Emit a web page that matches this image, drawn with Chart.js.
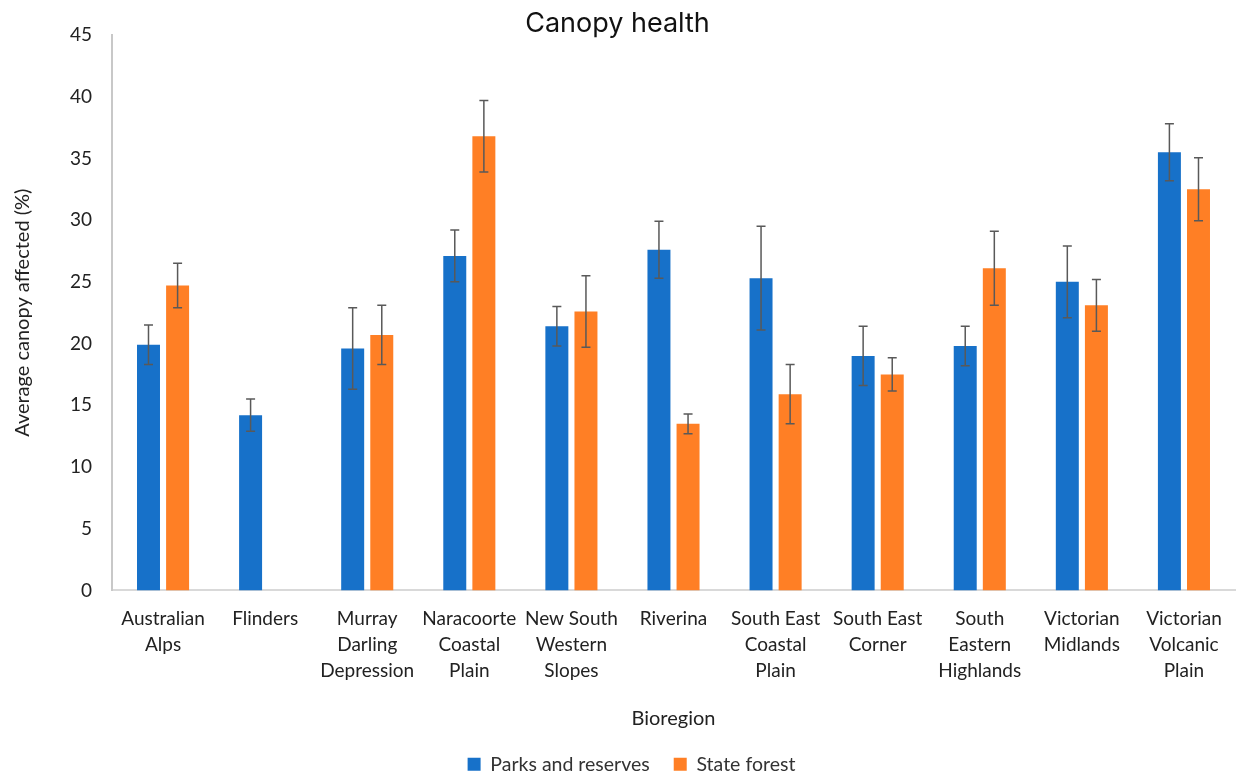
<!DOCTYPE html>
<html>
<head>
<meta charset="utf-8">
<script src="https://cdn.jsdelivr.net/npm/chart.js@4.4.1/dist/chart.umd.min.js"></script>
<style>
  body { margin: 0; background: #fff; }
  #wrap { width: 1243px; height: 774px; }
</style>
</head>
<body>
<div id="wrap"><canvas id="myChart" width="1243" height="774"></canvas></div>
<script>
const bioregiones = [
  ["Australian", "Alps"],
  ["Flinders"],
  ["Murray", "Darling", "Depression"],
  ["Naracoorte", "Coastal", "Plain"],
  ["New South", "Western", "Slopes"],
  ["Riverina"],
  ["South East", "Coastal", "Plain"],
  ["South East", "Corner"],
  ["South", "Eastern", "Highlands"],
  ["Victorian", "Midlands"],
  ["Victorian", "Volcanic", "Plain"]
];
const parques = [19.9, 14.2, 19.6, 27.1, 21.4, 27.6, 25.3, 19.0, 19.8, 25.0, 35.5];
const parquesError = [1.6, 1.3, 3.3, 2.1, 1.6, 2.3, 4.2, 2.4, 1.6, 2.9, 2.3];
const bosque = [24.7, null, 20.7, 36.8, 22.6, 13.5, 15.9, 17.5, 26.1, 23.1, 32.5];
const bosqueError = [1.8, null, 2.4, 2.9, 2.9, 0.8, 2.4, 1.35, 3.0, 2.1, 2.55];
const yTicks = [0, 5, 10, 15, 20, 25, 30, 35, 40, 45];

const fuente = "Lato";
const errores = [parquesError, bosqueError];

// barras de error dibujadas con la escala y
const errorBars = {
  id: "errorBars",
  afterLayout(chart) {
    // la leyenda de Excel queda un poco a la derecha
    chart.legend.left += 14;
    chart.legend.right += 14;
  },
  afterDatasetsDraw(chart) {
    const ctx = chart.ctx;
    const y = chart.scales.y;
    ctx.save();
    ctx.strokeStyle = "#595959";
    ctx.lineWidth = 1.5;
    chart.data.datasets.forEach((ds, i) => {
      const meta = chart.getDatasetMeta(i);
      meta.data.forEach((bar, j) => {
        const v = ds.data[j];
        const e = errores[i][j];
        if (v == null || e == null) return;
        const top = y.getPixelForValue(v + e);
        const bot = y.getPixelForValue(v - e);
        ctx.beginPath();
        ctx.moveTo(bar.x, top);
        ctx.lineTo(bar.x, bot);
        ctx.moveTo(bar.x - 4.5, top);
        ctx.lineTo(bar.x + 4.5, top);
        ctx.moveTo(bar.x - 4.5, bot);
        ctx.lineTo(bar.x + 4.5, bot);
        ctx.stroke();
      });
    });
    ctx.restore();
  }
};

const config = {
  type: "bar",
  data: {
    labels: bioregiones,
    datasets: [
      {
        label: "Parks and reserves",
        data: parques,
        backgroundColor: "#1771C9",
        categoryPercentage: 0.57,
        barPercentage: 0.79
      },
      {
        label: "State forest",
        data: bosque,
        backgroundColor: "#FF7F25",
        categoryPercentage: 0.57,
        barPercentage: 0.79
      }
    ]
  },
  options: {
    responsive: false,
    animation: false,
    layout: { padding: { left: 0, right: 8, top: 0, bottom: -10 } },
    plugins: {
      title: {
        display: true,
        text: "Canopy health",
        color: "#111",
        font: { family: "Inter", size: 27, weight: "normal", lineHeight: 1 },
        padding: { top: 10, bottom: -2 }
      },
      legend: {
        position: "bottom",
        labels: {
          boxWidth: 13,
          boxHeight: 13,
          color: "#333",
          padding: 24,
          font: { family: fuente, size: 19.5 }
        }
      },
      tooltip: { enabled: false }
    },
    scales: {
      x: {
        grid: { display: false, drawTicks: false },
        border: { display: true, color: "#d9d9d9", width: 2 },
        ticks: {
          autoSkip: false,
          maxRotation: 0,
          color: "#222",
          padding: 15,
          font: { family: fuente, size: 19, lineHeight: 1.37 }
        },
        title: {
          display: true,
          text: "Bioregion",
          color: "#222",
          font: { family: fuente, size: 20 },
          padding: { top: 8, bottom: 0 }
        }
      },
      y: {
        min: 0,
        max: 45,
        afterFit(scale) { scale.width = 112; },
        afterBuildTicks(scale) { scale.ticks = yTicks.map(v => ({ value: v })); },
        grid: { display: false, drawTicks: false },
        border: { display: true, color: "#c8c8c8", width: 2 },
        ticks: {
          color: "#222",
          padding: 20,
          font: { family: fuente, size: 19 }
        },
        title: {
          display: true,
          text: "Average canopy affected (%)",
          color: "#222",
          font: { family: fuente, size: 20 },
          padding: { top: 11, bottom: 0 }
        }
      }
    }
  },
  plugins: [errorBars]
};

let myChart = new Chart(document.getElementById("myChart"), config);
</script>
</body>
</html>
